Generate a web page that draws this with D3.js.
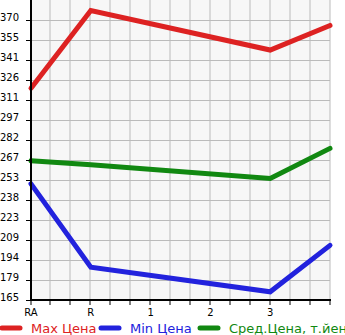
<!DOCTYPE html>
<html>
<head>
<meta charset="utf-8">
<script src="https://cdn.jsdelivr.net/npm/d3@7"></script>
<style>
  body { margin: 0; background: #fff; }
  text { font-family: "DejaVu Sans", sans-serif; }
</style>
</head>
<body>
<script>
// chart values
var categories = ["RA", "R", "1", "2", "3", ""];
var maxPrice = [320, 377, null, null, 348, 366];
var minPrice = [250, 189, null, null, 171, 205];
var avgPrice = [267, 264, null, null, 254, 276];
var yTickLabels = ["165", "179", "194", "209", "223", "238", "253", "267", "282", "297", "311", "326", "341", "355", "370"];
var legendLabels = ["Max Цена", "Min Цена", "Сред.Цена, т.йен"];
var colors = ["#dd2222", "#2222dd", "#118811"];

window.onload = function () {
    var w = 345, h = 335;
    var left = 31, right = 330, top = 0, bottom = 300;

    var svg = d3.select("body").append("svg")
        .attr("width", w)
        .attr("height", h);

    var x = d3.scalePoint()
        .domain(d3.range(categories.length))
        .range([left, right]);

    var y = d3.scaleLinear()
        .domain([165, 370])
        .range([bottom, 20]);

    var yTicks = yTickLabels.map(function (d, i) {
        return 165 + i * (370 - 165) / (yTickLabels.length - 1);
    });

    // plot background
    svg.append("rect")
        .attr("x", left).attr("y", top)
        .attr("width", right - left).attr("height", bottom - top)
        .style("fill", "#f7f7f7");

    // grid lines every 20px
    var gx = d3.range(left + 19, right + 1, 20);
    svg.selectAll(".vgrid").data(gx).enter().append("line")
        .attr("x1", function (d) { return d; }).attr("x2", function (d) { return d; })
        .attr("y1", top).attr("y2", bottom)
        .style("stroke", "#bbb").style("stroke-width", 1);

    svg.selectAll(".hgrid").data(yTicks).enter().append("line")
        .attr("x1", left).attr("x2", right)
        .attr("y1", function (d) { return Math.round(y(d)) + 0.5; })
        .attr("y2", function (d) { return Math.round(y(d)) + 0.5; })
        .style("stroke", "#bbb").style("stroke-width", 1);

    // lines
    var series = [maxPrice, minPrice, avgPrice];
    var line = d3.line()
        .defined(function (d) { return d != null; })
        .x(function (d, i) { return x(i); })
        .y(function (d) { return y(d); });

    series.forEach(function (s, k) {
        var pts = s.map(function (v, i) { return { v: v, i: i }; })
            .filter(function (d) { return d.v != null; });
        svg.append("path")
            .datum(pts)
            .attr("d", d3.line()
                .x(function (d) { return x(d.i); })
                .y(function (d) { return y(d.v); }))
            .style("fill", "none")
            .style("stroke", colors[k])
            .style("stroke-width", 5)
            .style("stroke-linecap", "round")
            .style("stroke-linejoin", "miter");
    });

    // y axis
    var yAxis = d3.axisLeft(y)
        .tickValues(yTicks)
        .tickSize(5)
        .tickFormat(function (d, i) { return yTickLabels[i]; });
    var ya = svg.append("g")
        .attr("transform", "translate(" + left + ",0)")
        .call(yAxis);
    ya.select(".domain").remove();
    ya.selectAll("text")
        .attr("x", -12)
        .attr("dy", "0")
        .style("font-size", "10px")
        .style("fill", "#000");

    // x axis with minor ticks every 20px
    var xa = svg.append("g").attr("transform", "translate(0," + bottom + ")");
    xa.selectAll(".xt").data(gx.concat([left])).enter().append("line")
        .attr("x1", function (d) { return d; }).attr("x2", function (d) { return d; })
        .attr("y1", 0).attr("y2", 5)
        .style("stroke", "#000");
    xa.selectAll(".xl").data(categories).enter().append("text")
        .attr("x", function (d, i) { return x(i); })
        .attr("y", 16)
        .attr("text-anchor", "middle")
        .style("font-size", "10px")
        .text(function (d) { return d; });

    // axis lines
    svg.append("line")
        .attr("x1", left).attr("x2", left).attr("y1", top).attr("y2", bottom + 1)
        .style("stroke", "#000").style("stroke-width", 2);
    svg.append("line")
        .attr("x1", left - 1).attr("x2", right + 1).attr("y1", bottom).attr("y2", bottom)
        .style("stroke", "#000").style("stroke-width", 2);

    // legend
    var lx = [0, 99, 198];
    var lg = svg.selectAll(".legend").data(legendLabels).enter().append("g")
        .attr("transform", function (d, i) { return "translate(" + lx[i] + ",328)"; });
    lg.append("line")
        .attr("x1", 2).attr("x2", 20).attr("y1", 0).attr("y2", 0)
        .style("stroke", function (d, i) { return colors[i]; })
        .style("stroke-width", 5)
        .style("stroke-linecap", "round");
    lg.append("text")
        .attr("x", 31).attr("y", 5)
        .style("font-size", "13px")
        .style("fill", function (d, i) { return colors[i]; })
        .text(function (d) { return d; });
};
</script>
</body>
</html>
